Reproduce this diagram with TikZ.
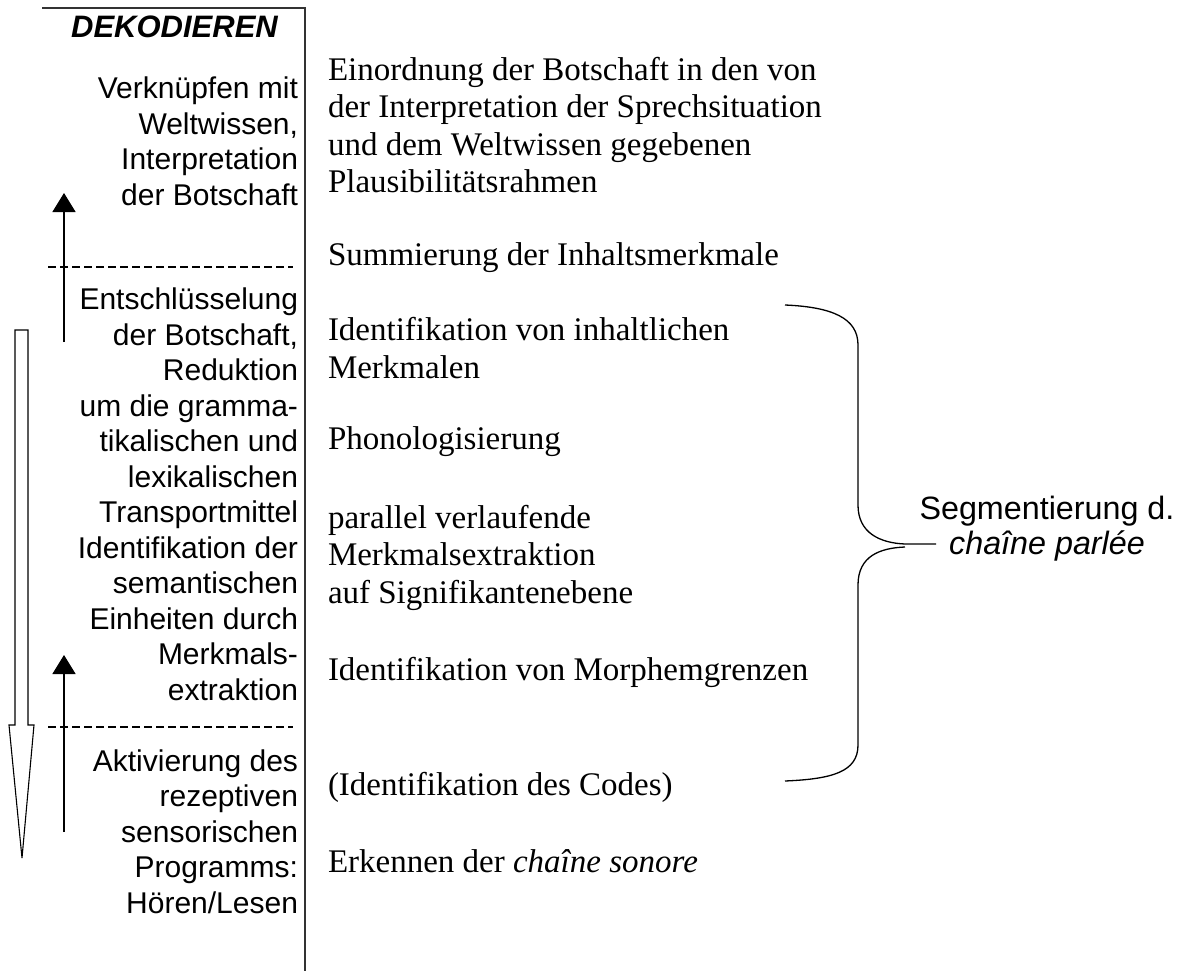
\documentclass[tikz,border=0pt]{standalone}
\usepackage{fontspec}
\setmainfont{Liberation Serif}
\setsansfont{Liberation Sans}
\usetikzlibrary{positioning,arrows.meta}

\begin{document}
\begin{tikzpicture}
        [ x=1pt, y=-1pt,
          every node/.style = {inner sep=0pt, outer sep=0pt},
          left text/.style = {font=\sffamily\fontsize{30}{35.5}\selectfont,
                              align=right, anchor=base east},
          right text/.style = {font=\fontsize{33}{37.5}\selectfont,
                               align=left, anchor=base west},
          level line/.style = {dash pattern=on 8pt off 4pt, line width=1.2pt},
          up arrow/.style = {line width=1.5pt, -{Triangle[length=19pt,width=23pt]}},
          frame line/.style = {line width=2pt, draw=black!80},
          brace line/.style = {line width=1.3pt}]
        \useasboundingbox (0,0) rectangle (1186,971);
        % linke Spalte (Anker: Grundlinie der letzten Zeile)
        \draw[frame line] (42,8) -- (305,8) -- (305,971);
        \node (dekodieren) [anchor=base, font=\sffamily\bfseries\itshape\fontsize{31}{35}\selectfont]
            at (174.5,38) {DEKODIEREN};
        \node (verknuepfen) [left text] at (298,205)
            {Verknüpfen mit\\Weltwissen,\\Interpretation\\der Botschaft};
        \node (entschluesselung) [left text] at (298,700)
            {Entschlüsselung\\der Botschaft,\\Reduktion\\um die gramma-\\tikalischen und\\lexikalischen\\Transportmittel\\Identifikation der\\semantischen\\Einheiten durch\\Merkmals-\\extraktion};
        \node (aktivierung) [left text] at (298,913)
            {Aktivierung des\\rezeptiven\\sensorischen\\Programms:\\Hören/Lesen};
        \draw[level line] (48,267) -- (293,267);
        \draw[level line] (48,727) -- (293,727);
        \draw[up arrow] (64,342) -- (64,193);
        \draw[up arrow] (64,832) -- (64,655);
        \draw[line width=1.1pt, fill=white] (15,330) -- (28,330) -- (28,725) -- (34,725)
            -- (22,858) -- (9,725) -- (15,725) -- cycle;
        % rechte Spalte
        \node (einordnung) [right text] at (328,193)
            {Einordnung der Botschaft in den von\\der Interpretation der Sprechsituation\\und dem Weltwissen gegebenen\\Plausibilitätsrahmen};
        \node (summierung) [right text] at (328,265) {Summierung der Inhaltsmerkmale};
        \node (inhalt) [right text] at (328,378) {Identifikation von inhaltlichen\\Merkmalen};
        \node (phono) [right text] at (328,449) {Phonologisierung};
        \node (parallel) [right text] at (328,603)
            {parallel verlaufende\\Merkmalsextraktion\\auf Signifikantenebene};
        \node (morphem) [right text] at (328,680) {Identifikation von Morphemgrenzen};
        \node (codes) [right text] at (328,795) {(Identifikation des Codes)};
        \node (erkennen) [right text] at (328,872) {Erkennen der {\itshape chaîne sonore}};
        % Klammer
        \node (segment) [anchor=base, align=center, font=\sffamily\fontsize{32.3}{35}\selectfont]
            at (1047,554) {Segmentierung d.\\{\itshape chaîne parlée}};
        \coordinate (brace tip) at (936,544);
        \draw[brace line] (785,305) .. controls (832,307) and (858,318) .. (858,345)
            -- (858,505) .. controls (858,533) and (880,543) .. (905,544) -- (brace tip);
        \draw[brace line] (905,547) .. controls (880,548) and (858,556) .. (858,585)
            -- (858,745) .. controls (858,772) and (832,779) .. (785,781);
\end{tikzpicture}
\end{document}
